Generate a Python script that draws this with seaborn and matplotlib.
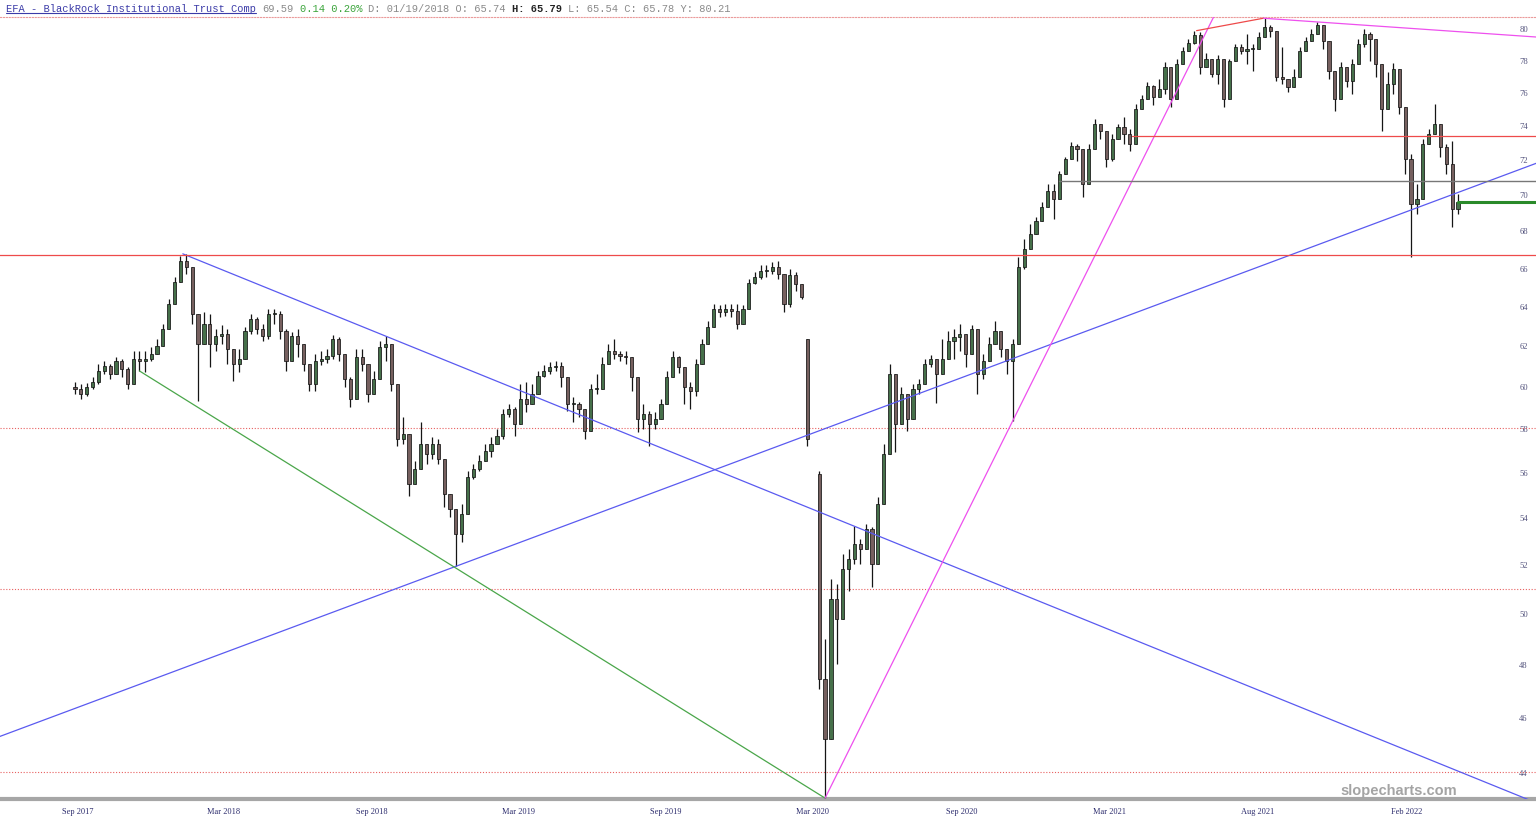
import numpy as np
import pandas as pd
import matplotlib
matplotlib.use("Agg")
import matplotlib.pyplot as plt
from matplotlib.ticker import FixedLocator, NullLocator, FixedFormatter
from matplotlib.lines import Line2D
import seaborn as sns

# ---------------- data (weekly candles, one per 5 trading days) ----------------
DAYS_PER_BAR = 5

close = [
    59.87, 59.63, 59.96, 60.20, 60.74, 60.98, 60.59, 61.23, 60.83, 60.10,
    61.33, 61.23, 61.33, 61.58, 61.97, 62.81, 64.10, 65.23, 66.35, 66.03,
    63.58, 62.07, 63.07, 62.07, 62.46, 62.56, 61.82, 61.08, 61.33, 62.71,
    63.32, 62.81, 62.46, 63.58, 63.58, 62.71, 61.23, 62.46, 62.07, 61.08,
    60.10, 61.23, 61.33, 61.48, 62.32, 61.58, 60.34, 59.39, 61.43, 61.08,
    59.63, 60.34, 61.92, 62.07, 60.10, 57.51, 57.74, 55.47, 56.14, 57.28,
    56.82, 57.28, 56.60, 55.03, 54.36, 53.28, 54.15, 55.78, 56.14, 56.50,
    56.96, 57.28, 57.65, 58.67, 58.91, 58.20, 59.39, 59.15, 59.63, 60.49,
    60.74, 60.93, 60.98, 60.44, 59.15, 59.15, 58.91, 57.87, 59.87, 59.87,
    61.08, 61.72, 61.58, 61.48, 61.43, 60.44, 58.44, 58.67, 58.20, 58.44,
    59.15, 60.44, 61.43, 60.93, 59.96, 59.77, 61.08, 62.07, 62.91, 63.84,
    63.69, 63.84, 63.74, 63.07, 63.84, 65.18, 65.49, 65.82, 65.82, 66.03,
    65.65, 64.10, 65.60, 65.13, 64.46, 57.51, np.nan, 47.41, 45.19, 50.57,
    49.76, 51.80, 52.22, 52.85, 52.64, 53.49, 52.01, 54.59, 56.82, 60.59,
    58.20, 59.63, 58.44, 59.87, 60.10, 61.08, 61.33, 60.59, 61.33, 62.22,
    62.41, 62.56, 61.58, 62.81, 60.59, 61.23, 62.07, 62.71, 61.82, 61.23,
    62.07, 66.03, 66.99, 67.80, 68.51, 69.30, 70.19, 69.74, 71.15, 72.02,
    72.78, 72.60, 70.58, 72.60, 74.06, 73.65, 72.02, 73.18, 73.88, 73.47,
    72.89, 74.97, 75.58, 76.37, 75.70, 76.18, 77.54, 75.58, 77.73, 78.55,
    79.06, 79.56, 77.54, 78.05, 77.10, 78.05, 75.58, 77.92, 78.80, 78.55,
    78.68, 78.68, 79.43, 80.06, 79.81, 76.91, 76.79, 76.31, 76.91, 78.55,
    79.18, 79.62, 80.19, 79.18, 77.29, 75.58, 77.54, 76.67, 77.73, 78.99,
    79.62, 79.31, 77.73, 74.97, 76.49, 77.42, 75.09, 72.02, 69.46, 69.74,
    72.89, 73.47, 74.06, 72.72, 71.73, 69.18, 69.59,
]

high = [
    60.20, 60.10, 60.15, 60.44, 61.08, 61.23, 61.08, 61.43, 61.33, 60.93,
    61.72, 61.72, 61.72, 61.92, 62.32, 63.07, 64.36, 65.49, 66.62, 66.73,
    66.03, 63.32, 63.69, 63.58, 62.81, 63.01, 62.81, 61.82, 61.82, 62.91,
    63.58, 63.43, 63.07, 63.84, 63.84, 63.74, 62.81, 62.66, 62.81, 61.58,
    60.93, 61.58, 61.72, 61.82, 62.51, 62.41, 61.43, 60.44, 61.82, 61.82,
    60.93, 60.74, 62.22, 62.46, 61.82, 59.87, 58.53, 57.28, 56.50, 58.30,
    57.28, 57.60, 57.51, 55.78, 55.03, 53.93, 54.59, 56.05, 56.37, 56.78,
    57.28, 57.60, 57.96, 58.91, 59.15, 59.01, 60.10, 60.20, 60.10, 60.74,
    61.03, 61.18, 61.23, 61.18, 59.87, 59.49, 59.25, 58.67, 60.10, 60.59,
    61.43, 62.07, 62.32, 61.72, 61.72, 61.43, 59.63, 59.15, 58.82, 58.77,
    59.39, 60.74, 61.72, 61.48, 60.83, 60.20, 61.33, 62.32, 63.22, 64.10,
    64.05, 64.10, 64.10, 64.10, 64.05, 65.39, 65.76, 66.14, 66.14, 66.30,
    66.35, 64.97, 65.92, 65.76, 65.03, 62.32, np.nan, 56.05, 48.97, 51.38,
    51.18, 52.43, 52.64, 53.62, 53.07, 53.71, 53.57, 54.89, 57.28, 61.08,
    60.59, 59.96, 59.15, 60.10, 60.34, 61.33, 61.53, 61.33, 62.32, 62.71,
    62.81, 63.07, 62.56, 63.01, 62.32, 61.58, 62.41, 63.22, 62.41, 61.58,
    62.32, 66.56, 67.53, 68.34, 68.74, 69.58, 70.58, 70.58, 71.33, 72.14,
    73.01, 72.89, 71.73, 72.89, 74.37, 74.06, 73.01, 73.47, 74.06, 74.49,
    73.76, 75.27, 75.82, 76.61, 76.43, 76.79, 77.86, 77.29, 78.05, 78.80,
    79.31, 79.81, 79.75, 78.43, 77.92, 78.30, 77.80, 78.05, 78.99, 78.99,
    79.62, 78.99, 79.75, 80.64, 80.19, 78.99, 78.80, 76.79, 77.42, 78.80,
    79.43, 79.94, 80.39, 79.94, 78.36, 76.49, 77.86, 77.54, 78.05, 79.31,
    79.94, 79.75, 78.68, 76.18, 77.23, 77.80, 76.67, 74.67, 72.31, 70.58,
    73.18, 73.76, 75.27, 73.30, 72.89, 73.07, 70.02,
]

low = [
    59.63, 59.39, 59.53, 59.87, 60.10, 60.59, 60.34, 60.74, 60.44, 59.87,
    60.10, 60.74, 60.69, 61.23, 61.58, 62.07, 63.32, 64.36, 65.29, 65.65,
    63.07, 59.30, 62.07, 60.93, 61.72, 62.07, 61.08, 60.25, 60.69, 61.82,
    62.56, 62.56, 62.22, 62.32, 63.07, 62.32, 60.74, 61.23, 61.43, 60.74,
    59.77, 59.77, 61.03, 61.13, 61.33, 61.23, 59.96, 59.01, 60.59, 60.74,
    59.25, 59.63, 60.44, 61.23, 59.77, 57.19, 57.28, 54.94, 55.47, 56.46,
    56.37, 56.60, 56.37, 54.45, 54.01, 51.92, 52.94, 54.59, 55.69, 56.05,
    56.50, 56.69, 57.28, 57.51, 58.53, 57.65, 58.82, 58.77, 59.15, 59.87,
    60.44, 60.59, 60.74, 59.96, 58.82, 58.30, 58.53, 57.51, 58.91, 59.63,
    60.25, 61.08, 61.33, 61.23, 61.08, 59.77, 57.83, 57.96, 57.19, 57.96,
    58.53, 59.63, 60.93, 60.64, 59.15, 58.91, 59.53, 61.58, 62.32, 63.32,
    63.43, 63.48, 63.43, 62.81, 63.43, 64.46, 65.13, 65.39, 65.49, 65.65,
    65.39, 63.69, 63.94, 64.77, 64.36, 57.19, np.nan, 47.04, 43.10, 47.04,
    47.99, 50.89, 50.89, 52.01, 52.01, 52.73, 51.06, 53.49, 55.47, 59.63,
    56.92, 58.44, 57.87, 59.01, 59.63, 60.44, 60.93, 59.20, 61.08, 61.82,
    61.33, 61.72, 60.93, 62.22, 59.63, 60.34, 61.33, 62.32, 61.43, 60.59,
    58.34, 62.81, 65.92, 67.10, 67.96, 68.62, 69.35, 68.62, 70.53, 71.44,
    72.31, 71.91, 69.86, 71.44, 73.18, 73.18, 71.56, 71.91, 73.30, 72.89,
    72.49, 73.59, 74.97, 75.58, 75.21, 75.70, 75.88, 75.09, 76.79, 77.92,
    78.55, 78.99, 77.10, 77.54, 76.91, 76.49, 75.09, 77.29, 78.36, 78.36,
    77.73, 77.29, 78.68, 79.62, 79.43, 76.67, 76.49, 76.00, 76.31, 77.73,
    78.68, 79.18, 79.81, 78.68, 76.79, 74.85, 76.49, 76.31, 75.88, 78.55,
    78.80, 77.92, 76.91, 73.65, 75.70, 75.88, 74.67, 71.15, 66.56, 68.90,
    70.98, 73.07, 73.47, 72.14, 71.15, 68.18, 68.90,
]

# opens that gap away from the previous close (bar index -> open)
gap_open = {0: 59.96, 125: 62.32, 127: 55.91}

tick_days = [2, 127, 253, 378, 504, 629, 757, 883, 1009, 1136]
tick_labels = ["Sep 2017", "Mar 2018", "Sep 2018", "Mar 2019", "Sep 2019",
               "Mar 2020", "Sep 2020", "Mar 2021", "Aug 2021", "Feb 2022"]
price_ticks = list(range(44, 81, 2))

# drawn trend lines: anchor (trading-day, price) pairs
rise_blue_days, rise_blue_prices = [325, 1113], [51.92, 68.47]
fall_blue_days, fall_blue_prices = [92, 629], [66.73, 54.36]
green_days, green_prices = [55, 640], [60.74, 43.10]
mag_rise_days, mag_rise_prices = [640, 800], [43.10, 58.34]
red_top_days, red_top_prices = [957, 1014], [79.83, 80.63]
mag_fall_days, mag_fall_prices = [1014, 1060], [80.63, 80.39]

# horizontal levels
level_prices = [66.66, 73.36, 70.75, 69.59]
level_start_days = [-70, 902, 840, 1180]
dotted_levels = [58.0, 51.0, 44.0]

# ---------------- figure ----------------
sns.set_theme(style="white")
plt.rcParams["font.family"] = ["DejaVu Sans"]

W, H = 1536, 828
fig = plt.figure(figsize=(W / 100, H / 100), dpi=100)
ax = fig.add_axes([0, (H - 800) / H, 1, (800 - 18) / H])
ax.set_yscale("log")
XMIN, XMAX = -64.0, 1246.6
YMIN, YMAX = 43.07, 80.71

df = pd.DataFrame({"close": close, "high": high, "low": low})
df["day"] = np.arange(len(df)) * DAYS_PER_BAR
df["open"] = df["close"].shift(1)
for k, v in gap_open.items():
    df.loc[k, "open"] = v
df = df.dropna()
hi = np.maximum.reduce([df["high"], df["open"], df["close"]])
lo = np.minimum.reduce([df["low"], df["open"], df["close"]])
up = df["close"] >= df["open"]

ax.vlines(df["day"], lo, hi, color="#151515", lw=0.9, zorder=3)
body_lo = np.minimum(df["open"], df["close"])
body_h = np.abs(df["close"] - df["open"]).clip(lower=0.03)
ax.bar(df["day"], body_h, bottom=body_lo, width=2.7,
       color=np.where(up, "#46704a", "#76605f"), edgecolor="#151515",
       linewidth=0.55, zorder=3)


def extend(days, prices, d0, d1):
    la, lb = np.log(prices[0]), np.log(prices[1])
    slope = (lb - la) / (days[1] - days[0])
    xs = np.array([d0, d1], dtype=float)
    return xs, np.exp(la + slope * (xs - days[0]))


lines = []
xs, ys = extend(rise_blue_days, rise_blue_prices, -80, 1300)
lines.append((xs, ys, "#5a5af0", 0.9))
xs, ys = extend(fall_blue_days, fall_blue_prices, fall_blue_days[0], 1300)
lines.append((xs, ys, "#5a5af0", 0.9))
lines.append((np.array(green_days), np.array(green_prices), "#4aa64a", 0.9))
xs, ys = extend(mag_rise_days, mag_rise_prices, mag_rise_days[0], 1000)
lines.append((xs, ys, "#ee50ee", 0.9))
lines.append((np.array(red_top_days), np.array(red_top_prices), "#ee4a4a", 0.9))
xs, ys = extend(mag_fall_days, mag_fall_prices, mag_fall_days[0], 1300)
lines.append((xs, ys, "#ee50ee", 0.9))

for xs, ys, c, lw in lines:
    sns.lineplot(x=xs, y=ys, ax=ax, color=c, lw=lw, sort=False,
                 estimator=None, zorder=4)

lvl_colors = ["#ee4a4a", "#ee4a4a", "#777777", "#2a8a2a"]
lvl_widths = [0.9, 0.9, 1.0, 2.2]
for p, d0, c, lw in zip(level_prices, level_start_days, lvl_colors, lvl_widths):
    ax.plot([d0, 1300], [p, p], color=c, lw=lw, zorder=4)
for p in dotted_levels:
    ax.axhline(p, color="#e86060", lw=0.8, ls=(0, (1, 1.6)), zorder=2)

ax.set_xlim(XMIN, XMAX)
ax.set_ylim(YMIN, YMAX)
ax.set_xlabel("")
ax.set_ylabel("")

ax.xaxis.set_major_locator(FixedLocator(tick_days))
ax.xaxis.set_major_formatter(FixedFormatter(tick_labels))
ax.xaxis.set_minor_locator(NullLocator())
ax.yaxis.set_major_locator(FixedLocator(price_ticks))
ax.yaxis.set_major_formatter(FixedFormatter([str(p) for p in price_ticks]))
ax.yaxis.set_minor_locator(NullLocator())
ax.yaxis.tick_right()
ax.tick_params(axis="x", length=0, pad=6, labelsize=6.0, labelcolor="#2d2d6e")
ax.tick_params(axis="y", length=0, pad=-12, labelsize=6.2, labelcolor="#55557e")
for lab in ax.get_xticklabels() + ax.get_yticklabels():
    lab.set_fontfamily("Liberation Serif")

for s in ("left", "right"):
    ax.spines[s].set_visible(False)
ax.spines["bottom"].set_color("#a6a6a6")
ax.spines["bottom"].set_linewidth(3)
ax.spines["top"].set_color("#eb9a9a")
ax.spines["top"].set_linewidth(0.8)
ax.spines["top"].set_linestyle((0, (1, 1.6)))
ax.grid(False)

# header text (monospace, laid out by character cells)
CHAR = 6.25
x0 = 6
ty = 1 - 8.5 / H
segments = [
    (0, "EFA - BlackRock Institutional Trust Comp", "#3b3ba8", "normal"),
    (41, "69.59", "#8a8a8a", "normal"),
    (47, "0.14 0.20%", "#3aa43a", "normal"),
    (58, "D: 01/19/2018 O: 65.74", "#8a8a8a", "normal"),
    (81, "H: 65.79", "#222222", "bold"),
    (90, "L: 65.54 C: 65.78 Y: 80.21", "#8a8a8a", "normal"),
]
for ci, txt, col, wt in segments:
    fig.text((x0 + ci * CHAR) / W, ty, txt, color=col, fontsize=7.5,
             fontweight=wt, family="Liberation Mono", ha="left", va="center")
fig.add_artist(Line2D([x0 / W, (x0 + 40 * CHAR) / W], [1 - 13.5 / H] * 2,
                      color="#3b3ba8", lw=0.8))

fig.text(1399 / W, 1 - 791 / H, "slopecharts.com", color="#a4a4a4",
         fontsize=10.5, fontweight="bold", family="Liberation Sans",
         ha="center", va="center")

fig.savefig("out.png", dpi=100)
